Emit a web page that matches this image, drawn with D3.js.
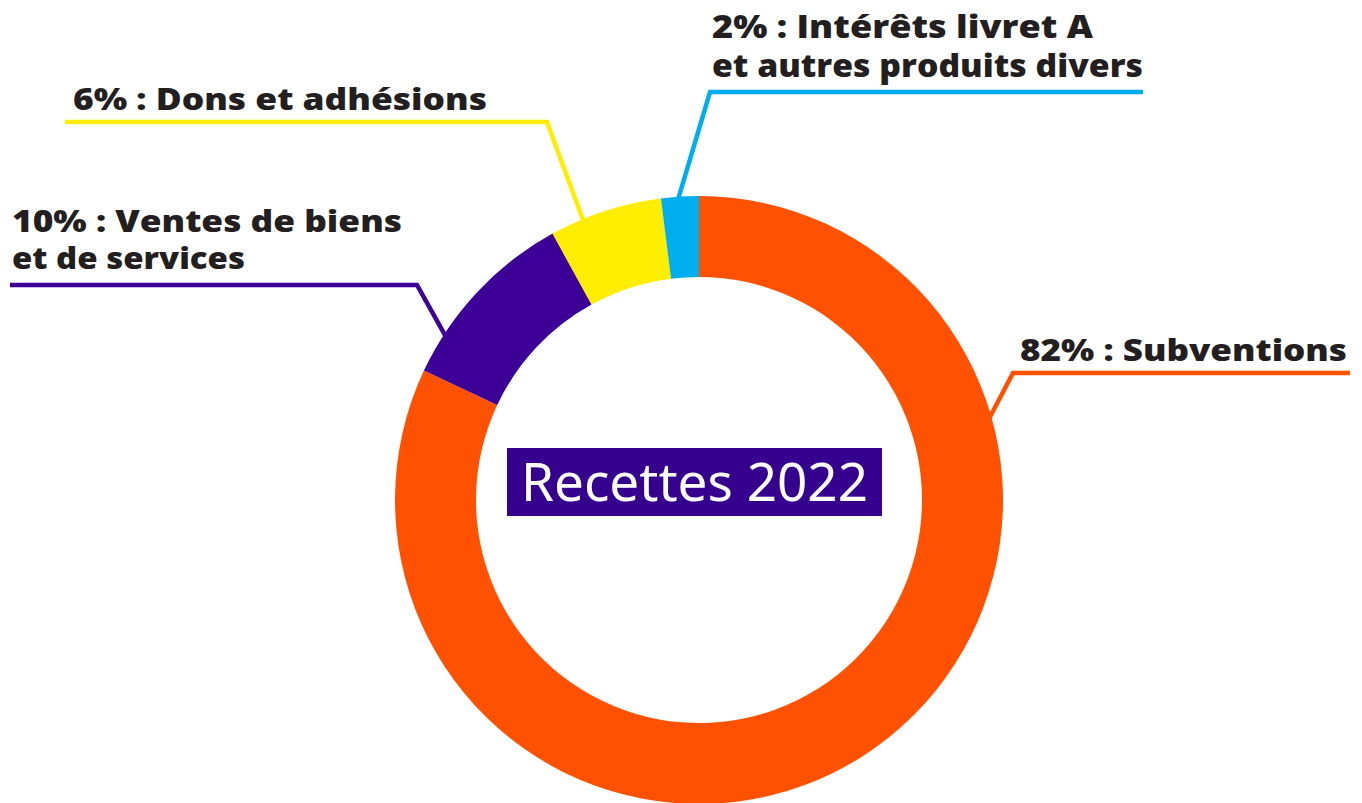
<!DOCTYPE html>
<html>
<head>
<meta charset="utf-8">
<script src="https://cdn.jsdelivr.net/npm/d3@7"></script>
<style>
  html, body { margin: 0; padding: 0; background: #ffffff; }
</style>
</head>
<body>
<div id="chart"></div>
<script>
// Recettes 2022 - donut chart with leader-line labels

const categories = ["Subventions", "Ventes de biens et de services", "Dons et adhésions", "Intérêts livret A et autres produits divers"];
const shares = [82, 10, 6, 2];
const labelLines = [
    ["82% : Subventions"],
    ["10% : Ventes de biens", "et de services"],
    ["6% : Dons et adhésions"],
    ["2% : Intérêts livret A", "et autres produits divers"]
];
const centerTitle = "Recettes 2022";

const colors = ["#ff5100", "#3c0096", "#ffed00", "#00adef"];

// label layout: anchor angle on the ring (deg), elbow point, end of the horizontal rule,
// text x, first baseline, line gap, font size, line widths
const labelLayout = [
    { angle: 74.4, elbow: [1013, 373], endX: 1350, tx: 1020, ty: 361, gap: 38, size: 30, widths: [327] },
    { angle: 302.8, elbow: [417, 285], endX: 10, tx: 12, ty: 232, gap: 37, size: 30, widths: [390, 233] },
    { angle: 337.5, elbow: [547, 122], endX: 65, tx: 73, ty: 110, gap: 38, size: 30, widths: [414] },
    { angle: 356.0, elbow: [710, 92], endX: 1143, tx: 712, ty: 38, gap: 39, size: 31, widths: [381, 431] }
];

const width = 1362;
const height = 803;
const cx = 699;
const cy = 500;
const outerR = 304;
const innerR = 223;

const svg = d3.select("#chart")
    .append("svg")
    .attr("width", width)
    .attr("height", height)
    .style("display", "block");

const pie = d3.pie().sort(null).value(d => d);
const arcs = pie(shares);

const arc = d3.arc()
    .innerRadius(innerR)
    .outerRadius(outerR);

const g = svg.append("g")
    .attr("transform", `translate(${cx},${cy})`);

g.selectAll("path.slice")
    .data(arcs)
    .enter()
    .append("path")
    .attr("class", "slice")
    .attr("d", arc)
    .attr("fill", (d, i) => colors[i]);

// leader lines + labels
const line = d3.line();
labelLayout.forEach((l, i) => {
    const a = l.angle * Math.PI / 180;
    const r = outerR - 3;
    const start = [cx + r * Math.sin(a), cy - r * Math.cos(a)];
    svg.append("path")
        .attr("d", line([start, l.elbow, [l.endX, l.elbow[1]]]))
        .attr("fill", "none")
        .attr("stroke", colors[i])
        .attr("stroke-width", 4.5)
        .attr("stroke-linejoin", "miter");

    labelLines[i].forEach((txt, j) => {
        svg.append("text")
            .attr("x", l.tx)
            .attr("y", l.ty + j * l.gap)
            .attr("textLength", l.widths[j])
            .attr("lengthAdjust", "spacingAndGlyphs")
            .style("font-family", "'Open Sans', 'Noto Sans', sans-serif")
            .style("font-weight", 800)
            .style("font-size", l.size + "px")
            .style("fill", "#231f20")
            .text(txt);
    });
});

// center title
svg.append("rect")
    .attr("x", 507)
    .attr("y", 448)
    .attr("width", 375)
    .attr("height", 68)
    .attr("fill", "#36008f");

svg.append("text")
    .attr("x", 521)
    .attr("y", 501)
    .attr("textLength", 347)
    .attr("lengthAdjust", "spacingAndGlyphs")
    .style("font-family", "'Noto Sans', 'Open Sans', sans-serif")
    .style("font-size", "52px")
    .style("fill", "#ffffff")
    .text(centerTitle);
</script>
</body>
</html>
